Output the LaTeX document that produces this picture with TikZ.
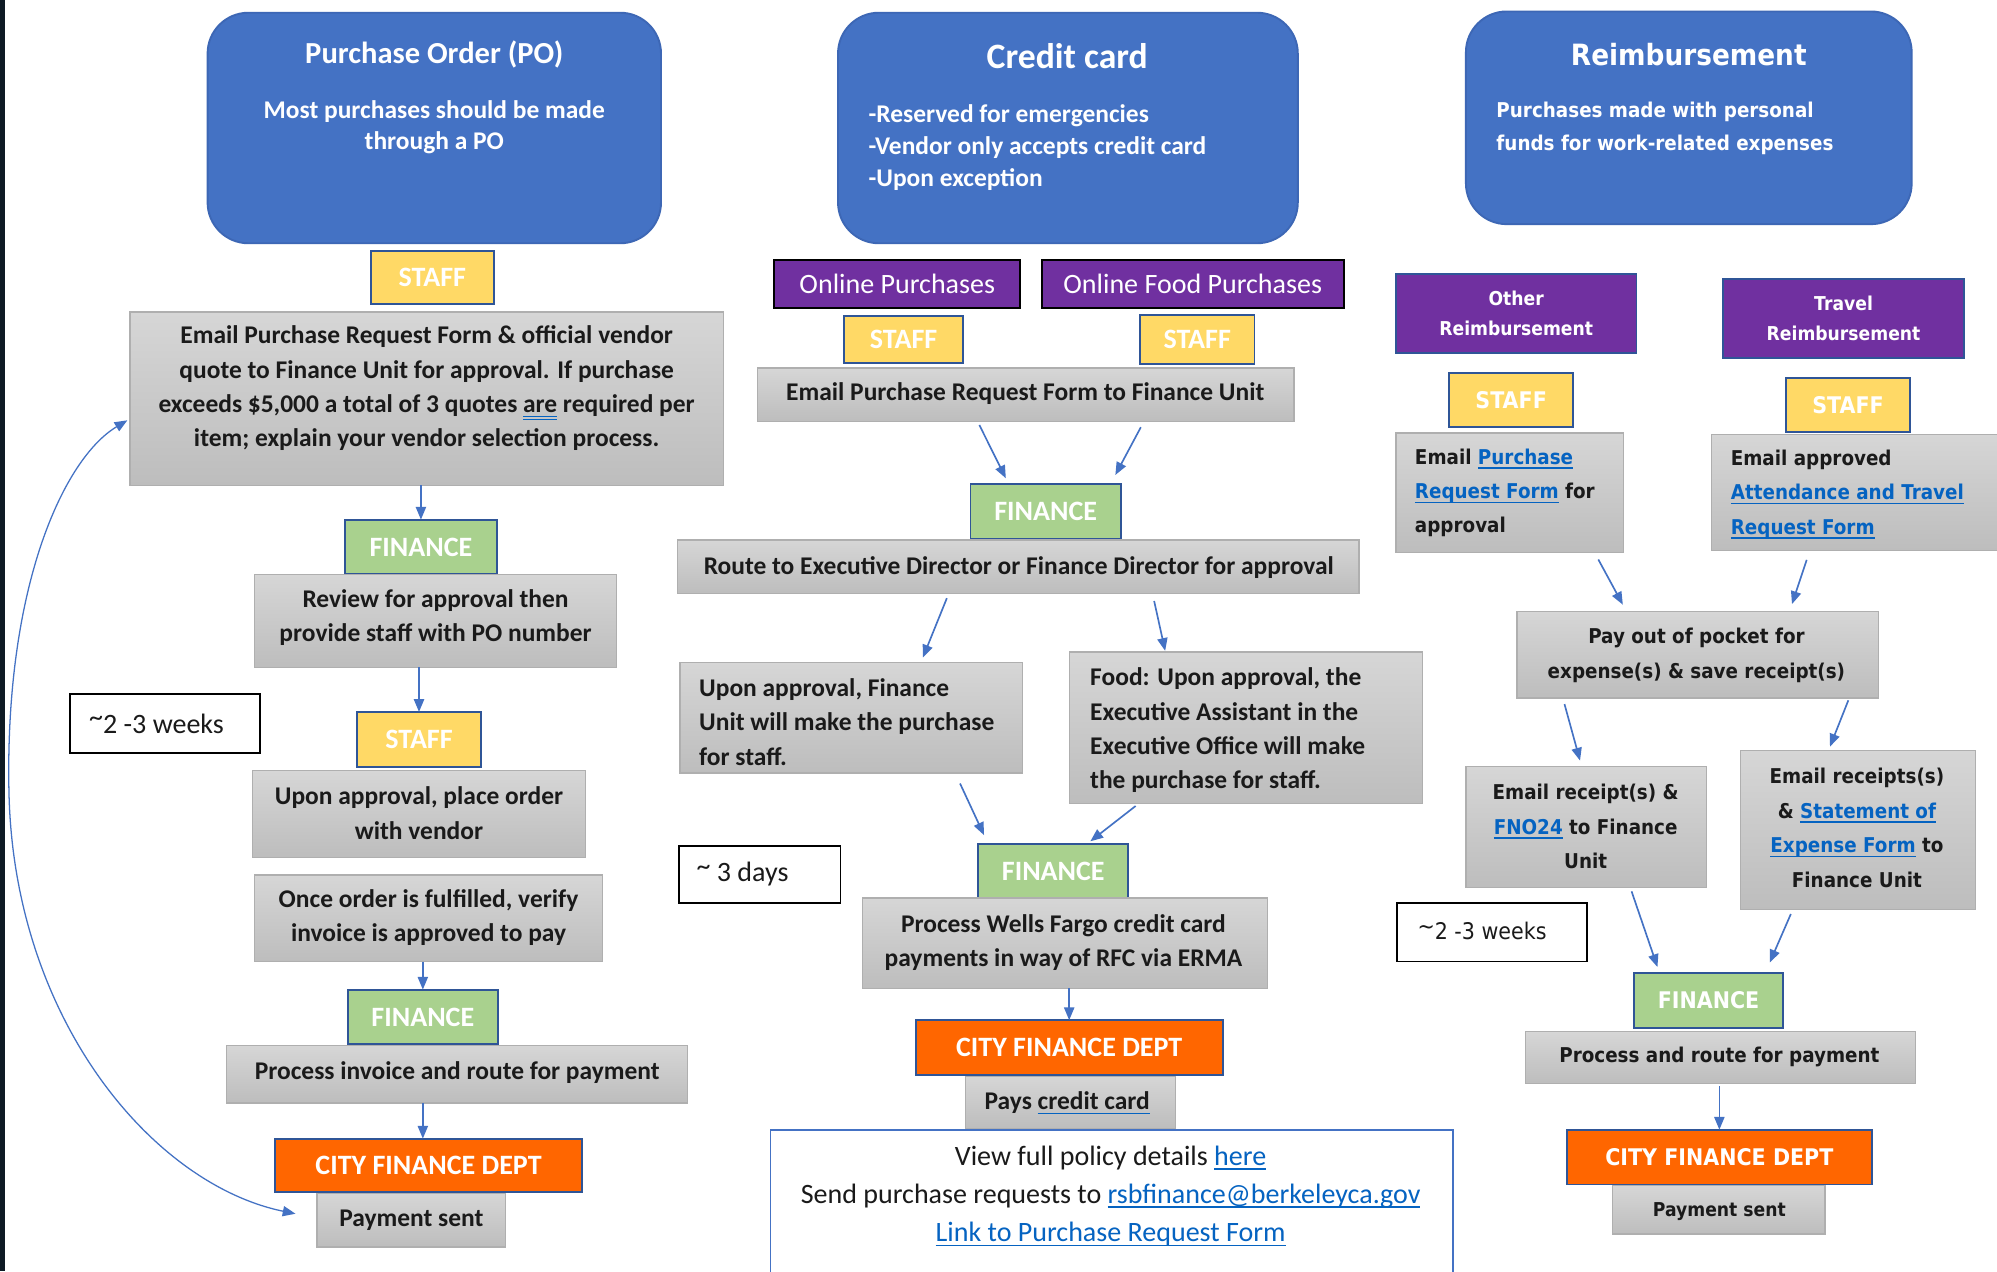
\documentclass[tikz,border=0pt]{standalone}
\usepackage{fontspec}
\setmainfont{Carlito}
\newfontfamily\tah[FakeStretch=0.9]{DejaVu Sans}
\usetikzlibrary{arrows.meta,calc}
\definecolor{hdrblue}{HTML}{4472C4}
\definecolor{hdrline}{HTML}{3D67B5}
\definecolor{labline}{HTML}{2F5597}
\definecolor{staffy}{HTML}{FFD966}
\definecolor{fing}{HTML}{A9D18E}
\definecolor{cityo}{HTML}{FF6600}
\definecolor{purp}{HTML}{7030A0}
\definecolor{gtop}{HTML}{D6D6D6}
\definecolor{gbot}{HTML}{BDBDBD}
\definecolor{gline}{HTML}{AFAFAF}
\definecolor{arrblue}{HTML}{4472C4}
\definecolor{linkc}{HTML}{0563C1}
\definecolor{txtc}{HTML}{1A1A1A}
\definecolor{darkstrip}{HTML}{0E1A24}
\newcommand\fC[2]{\fontsize{#1}{#2}\selectfont}
\newcommand\bul[1]{\setbox0\hbox{#1}\rlap{\textcolor{linkc}{\rule[-3.5pt]{\wd0}{1.1pt}}}\box0\relax}
\newcommand\lnk[1]{\bul{\textcolor{linkc}{#1}}}
\newcommand\dul[1]{\setbox0\hbox{#1}\rlap{\textcolor{linkc}{\rule[-3.2pt]{\wd0}{0.8pt}}}\rlap{\textcolor{linkc}{\rule[-5.6pt]{\wd0}{0.8pt}}}\box0\relax}
\newcommand\tld{\raisebox{0.22em}{\textasciitilde}}
\tikzset{
 base/.style={inner sep=0pt, outer sep=0pt},
 hdr/.style={base, rounded corners=32pt, fill=hdrblue, draw=hdrline, line width=1.5pt},
 lab/.style={base, draw=labline, line width=1.5pt, text=white, font=\bfseries\fC{22}{26}},
 labr/.style={lab, font=\tah\bfseries\fC{18}{22}},
 staffbox/.style={fill=staffy},
 finbox/.style={fill=fing},
 citybox/.style={fill=cityo},
 purpbox/.style={base, fill=purp, draw=black, line width=1.5pt, text=white, font=\fC{22}{26}},
 purpr/.style={base, fill=purp, draw=labline, line width=1.2pt, text=white, align=center, font=\tah\bfseries\fC{15}{23}},
 gbox/.style={base, top color=gtop, bottom color=gbot, draw=gline, line width=1pt},
 note/.style={base, draw=black, fill=white, line width=1.3pt},
 tb/.style={base, text=txtc, align=center, font=\bfseries\fC{20}{27}},
 tbl/.style={tb, align=left, anchor=west},
 tr/.style={base, text=txtc, align=center, font=\tah\bfseries\fC{16}{27}},
 trl/.style={tr, align=left, anchor=west},
 hw/.style={base, text=white, align=center},
 arr/.style={draw=arrblue, line width=1.3pt, -{Triangle[length=10pt,width=8pt]}}
}
\begin{document}
\begin{tikzpicture}[x=1pt,y=-1pt]
\useasboundingbox (0,0) rectangle (1568,998);
\clip (0,0) rectangle (1568,998);
\fill[white] (0,0) rectangle (1568,998);
\fill[darkstrip] (0,0) rectangle (4,998);

% ---------- Column 1: Purchase Order ----------
\node[hdr, minimum width=356, minimum height=181] (po) at (341,100.5) {};
\node[hw, font=\bfseries\fC{24}{28}] (pot) at (341,43) {Purchase Order (PO)};
\node[hw, font=\bfseries\fC{20}{24}] (pos) at (341,100) {Most purchases should be made\\through a PO};
\node[lab, staffbox, minimum width=97, minimum height=42] (st1) at (339.5,218) {STAFF};
\node[gbox, minimum width=466, minimum height=136] (em1) at (335,313) {};
\node[tb] (em1t) at (335,305) {Email Purchase Request Form \& official vendor\\quote to Finance Unit for approval. If purchase\\exceeds \$5,000 a total of 3 quotes \dul{are} required per\\item; explain your vendor selection process.};
\node[lab, finbox, minimum width=119, minimum height=43] (fin1) at (330.5,429.5) {FINANCE};
\node[gbox, minimum width=284, minimum height=73] (rev) at (342,487.5) {};
\node[tb] (revt) at (342,485) {Review for approval then\\provide staff with PO number};
\node[note, minimum width=149, minimum height=46] (wk1) at (129.5,568) {};
\node[base, anchor=west, text=txtc, font=\fC{22}{26}] (wk1t) at (70,568) {\tld2 -3 weeks};
\node[lab, staffbox, minimum width=98, minimum height=43] (st2) at (329,580.5) {STAFF};
\node[gbox, minimum width=262, minimum height=68] (upo) at (329,639) {};
\node[tb] (upot) at (329,638.5) {Upon approval, place order\\with vendor};
\node[gbox, minimum width=273, minimum height=68] (once) at (336.5,721) {};
\node[tb] (oncet) at (336.5,720.5) {Once order is fulfilled, verify\\invoice is approved to pay};
\node[lab, finbox, minimum width=118, minimum height=43] (fin2) at (332,798.5) {FINANCE};
\node[gbox, minimum width=362, minimum height=45] (proc) at (359,843.5) {};
\node[tb] (proct) at (359,842) {Process invoice and route for payment};
\node[lab, citybox, minimum width=241, minimum height=42] (city1) at (336.5,915) {CITY FINANCE DEPT};
\node[gbox, minimum width=148, minimum height=42] (pay1) at (323,958) {};
\node[tb] (pay1t) at (323,958) {Payment sent};

\draw[arr] (em1.south -| fin1.north) -- (fin1.north);
\draw[arr] (rev.south -| st2.north) -- (st2.north);
\draw[arr] (once.south -| fin2.north) -- (fin2.north);
\draw[arr] (proc.south -| fin2.north) -- (city1.north -| fin2.north);
\coordinate (cA) at ($(pay1.west)+(-17,-5)$);
\coordinate (cB) at ($(em1.west)+(-2,17)$);
\draw[draw=arrblue, line width=1pt, {Triangle[length=10pt,width=8pt]}-{Triangle[length=10pt,width=8pt]}] (cA) .. controls (120,930) and (10,800) .. (7,620) .. controls (4,460) and (50,360) .. (cB);

% ---------- Column 2: Credit card ----------
\node[hdr, minimum width=361, minimum height=181] (cc) at (838.5,100.5) {};
\node[hw, font=\bfseries\fC{28}{32}] (cct) at (838,44) {Credit card};
\node[hw, align=left, anchor=west, font=\bfseries\fC{20}{25}] (ccs) at (682,116) {-Reserved for emergencies\\-Vendor only accepts credit card\\-Upon exception};
\node[purpbox, minimum width=193, minimum height=38] (onl) at (704.5,223) {Online Purchases};
\node[purpbox, minimum width=237, minimum height=38] (food) at (936.5,223) {Online Food Purchases};
\node[lab, staffbox, minimum width=93, minimum height=37] (st3) at (709.5,266.5) {STAFF};
\node[lab, staffbox, minimum width=90, minimum height=39] (st4) at (940,266.5) {STAFF};
\node[gbox, minimum width=421, minimum height=42] (em2) at (805.5,310) {};
\node[tb] (em2t) at (805,309) {Email Purchase Request Form to Finance Unit};
\node[lab, finbox, minimum width=118, minimum height=43] (fin3) at (821,401.5) {FINANCE};
\node[gbox, minimum width=535, minimum height=42] (route) at (799.5,445) {};
\node[tb] (routet) at (800,446) {Route to Executive Director or Finance Director for approval};
\node[gbox, minimum width=269, minimum height=87] (upf) at (668.5,563.5) {};
\node[tbl] (upft) at (549,567) {Upon approval, Finance\\Unit will make the purchase\\for staff.};
\node[gbox, minimum width=277, minimum height=119] (foodb) at (978.5,571.5) {};
\node[tbl] (foodbt) at (856,573.5) {Food: Upon approval, the\\Executive Assistant in the\\Executive Office will make\\the purchase for staff.};
\node[note, minimum width=127, minimum height=45] (days) at (596.5,686.5) {};
\node[base, anchor=west, text=txtc, font=\fC{22}{26}] (dayst) at (547,686) {\tld{} 3 days};
\node[lab, finbox, minimum width=118, minimum height=42] (fin4) at (827,684) {FINANCE};
\node[gbox, minimum width=318, minimum height=71] (wf) at (836,740.5) {};
\node[tb] (wft) at (835,740) {Process Wells Fargo credit card\\payments in way of RFC via ERMA};
\node[lab, citybox, minimum width=241, minimum height=43] (city2) at (839.5,822.5) {CITY FINANCE DEPT};
\node[gbox, minimum width=165, minimum height=41] (pays) at (840.5,865.5) {};
\node[tb] (payst) at (838,866) {Pays \bul{credit card}};
\node[base, draw=hdrblue, line width=1.5pt, fill=white, minimum width=536, minimum height=140, anchor=north west] (info) at (605,887) {};
\node[base, text=txtc, align=center, font=\fC{22}{30}] (infot) at (872,939) {View full policy details \lnk{here}\\Send purchase requests to \lnk{rsbfinance@berkeleyca.gov}\\\lnk{Link to Purchase Request Form}};

\draw[arr, shorten <=3pt, shorten >=5pt] ($(em2.south west)!0.41!(em2.south east)$) -- ($(fin3.north west)!0.254!(fin3.north east)$);
\draw[arr, shorten <=5pt, shorten >=8pt] ($(em2.south west)!0.72!(em2.south east)$) -- ($(fin3.north west)!0.932!(fin3.north east)$);
\draw[arr, shorten <=4pt, shorten >=4pt] ($(route.south west)!0.398!(route.south east)$) -- ($(upf.north west)!0.703!(upf.north east)$);
\draw[arr, shorten <=6pt, shorten >=1pt] ($(route.south west)!0.697!(route.south east)$) -- ($(foodb.north west)!0.271!(foodb.north east)$);
\draw[arr, shorten <=9pt, shorten >=8pt] ($(upf.south west)!0.803!(upf.south east)$) -- ($(fin4.north west)!0.068!(fin4.north east)$);
\draw[arr, shorten <=3pt, shorten >=4pt] ($(foodb.south west)!0.195!(foodb.south east)$) -- ($(fin4.north west)!0.72!(fin4.north east)$);
\draw[arr] (wf.south -| city2.north) -- (city2.north);

% ---------- Column 3: Reimbursement ----------
\node[hdr, minimum width=350, minimum height=167] (rb) at (1326,92.5) {};
\node[hw, font=\tah\bfseries\fC{23}{28}] (rbt) at (1326,43) {Reimbursement};
\node[hw, align=left, anchor=west, font=\tah\bfseries\fC{16}{26}] (rbs) at (1175,101) {Purchases made with personal\\funds for work-related expenses};
\node[purpr, minimum width=189, minimum height=62] (oth) at (1190.5,246) {Other\\Reimbursement};
\node[purpr, minimum width=189, minimum height=62] (trv) at (1447.5,250) {Travel\\Reimbursement};
\node[labr, staffbox, minimum width=97, minimum height=42] (st5) at (1186.5,314) {STAFF};
\node[labr, staffbox, minimum width=98, minimum height=42] (st6) at (1451,318) {STAFF};
\node[gbox, minimum width=179, minimum height=94] (em3) at (1185.5,387) {};
\node[trl] (em3t) at (1111,387) {Email \lnk{Purchase}\\\lnk{Request Form} for\\approval};
\node[gbox, minimum width=226, minimum height=91] (em4) at (1457,386.5) {};
\node[trl] (em4t) at (1359,388) {Email approved\\\lnk{Attendance and Travel}\\\lnk{Request Form}};
\node[gbox, minimum width=284, minimum height=68] (pop) at (1333,514) {};
\node[tr] (popt) at (1332,514.5) {Pay out of pocket for\\expense(s) \& save receipt(s)};
\node[gbox, minimum width=189, minimum height=95] (er1) at (1245.5,649.5) {};
\node[tr] (er1t) at (1245,649) {Email receipt(s) \&\\\lnk{FNO24} to Finance\\Unit};
\node[gbox, minimum width=184.5, minimum height=125] (er2) at (1459,651.5) {};
\node[tr] (er2t) at (1458,650) {Email receipts(s)\\\& \lnk{Statement of}\\\lnk{Expense Form} to\\Finance Unit};
\node[note, minimum width=149, minimum height=46] (wk2) at (1171.5,732) {};
\node[base, anchor=west, text=txtc, font=\tah\fC{18}{22}] (wk2t) at (1113,731) {\tld2 -3 weeks};
\node[labr, finbox, minimum width=117, minimum height=43] (fin5) at (1341.5,785.5) {FINANCE};
\node[gbox, minimum width=306, minimum height=41] (prr) at (1351,830.5) {};
\node[tr] (prrt) at (1350,830) {Process and route for payment};
\node[labr, citybox, minimum width=240, minimum height=43] (city3) at (1350,908.5) {CITY FINANCE DEPT};
\node[gbox, minimum width=167, minimum height=38] (pay3) at (1349.5,950) {};
\node[tr, font=\tah\bfseries\fC{15}{20}] (pay3t) at (1350,951) {Payment sent};

\draw[arr, shorten <=6pt, shorten >=6pt] ($(em3.south west)!0.872!(em3.south east)$) -- ($(pop.north west)!0.303!(pop.north east)$);
\draw[arr, shorten <=8pt, shorten >=6pt] ($(em4.south west)!0.341!(em4.south east)$) -- ($(pop.north west)!0.754!(pop.north east)$);
\draw[arr, shorten <=5pt, shorten >=5pt] ($(pop.south west)!0.127!(pop.south east)$) -- ($(er1.north west)!0.481!(er1.north east)$);
\draw[arr, shorten <=2pt, shorten >=3pt] ($(pop.south west)!0.919!(pop.south east)$) -- ($(er2.north west)!0.374!(er2.north east)$);
\draw[arr, shorten <=3pt, shorten >=5pt] ($(er1.south west)!0.683!(er1.south east)$) -- ($(fin5.north west)!0.171!(fin5.north east)$);
\draw[arr, shorten <=4pt, shorten >=9pt] ($(er2.south west)!0.222!(er2.south east)$) -- ($(fin5.north west)!0.88!(fin5.north east)$);
\draw[arr, shorten <=2pt] (prr.south -| city3.north) -- (city3.north);
\end{tikzpicture}
\end{document}
